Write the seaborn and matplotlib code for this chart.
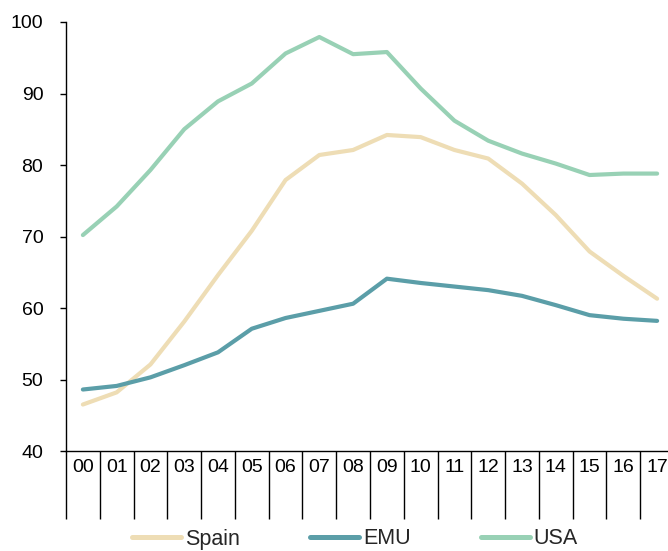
import numpy as np
import pandas as pd
import matplotlib
matplotlib.use("Agg")
import matplotlib.pyplot as plt
import seaborn as sns

# Values
years = ["00", "01", "02", "03", "04", "05", "06", "07", "08",
         "09", "10", "11", "12", "13", "14", "15", "16", "17"]
spain = [46.5, 48.2, 52.1, 58.1, 64.6, 70.8, 77.9, 81.4, 82.1,
         84.2, 83.9, 82.1, 80.9, 77.4, 73.0, 67.9, 64.5, 61.3]
emu = [48.6, 49.1, 50.3, 52.0, 53.8, 57.1, 58.6, 59.6, 60.6,
       64.1, 63.5, 63.0, 62.5, 61.7, 60.4, 59.0, 58.5, 58.2]
usa = [70.2, 74.2, 79.3, 85.0, 88.9, 91.4, 95.6, 97.9, 95.5,
       95.8, 90.7, 86.2, 83.4, 81.6, 80.2, 78.6, 78.8, 78.8]
series_names = ["Spain", "EMU", "USA"]
colors = ["#EEDDB5", "#5B9EA8", "#98D1B5"]

df = pd.DataFrame({
    "year": years * 3,
    "value": spain + emu + usa,
    "series": np.repeat(series_names, len(years)),
})

sns.set_style("white")
plt.rcParams["font.family"] = ["Liberation Sans", "DejaVu Sans"]

fig = plt.figure(figsize=(6.68, 5.51), dpi=100)
ax = fig.add_axes([66 / 668, 1 - 451 / 551, 608 / 668, 429 / 551])

sns.lineplot(data=df, x="year", y="value", hue="series",
             palette=dict(zip(series_names, colors)), linewidth=3,
             ax=ax, sort=False)

ax.set_xlim(-0.5, 17.5)
ax.set_ylim(40, 100)
ax.set_yticks(range(40, 101, 10))
ax.set_xlabel("")
ax.set_ylabel("")

# category separators below the axis
ax.set_xticks(np.arange(-0.5, 18, 1), minor=True)
ax.tick_params(axis="x", which="minor", direction="out", length=49,
               width=1, color="black", bottom=True)
ax.tick_params(axis="x", which="major", length=0, pad=6,
               labelsize=14, labelcolor="black", bottom=True)
ax.tick_params(axis="y", direction="out", length=4.3, width=1,
               color="black", pad=12, labelsize=14, labelcolor="black",
               left=True)

for side in ["top", "right"]:
    ax.spines[side].set_visible(False)
for side in ["left", "bottom"]:
    ax.spines[side].set_color("black")
    ax.spines[side].set_linewidth(1)

leg = ax.legend(loc="center", bbox_to_anchor=((355 - 66) / 608, -88 / 429),
                ncol=3, frameon=False, fontsize=15.5, handlelength=2.28,
                handletextpad=0.19, columnspacing=3.25, borderpad=0)
for line in leg.get_lines():
    line.set_linewidth(3.6)

fig.savefig("out.png", dpi=100)
